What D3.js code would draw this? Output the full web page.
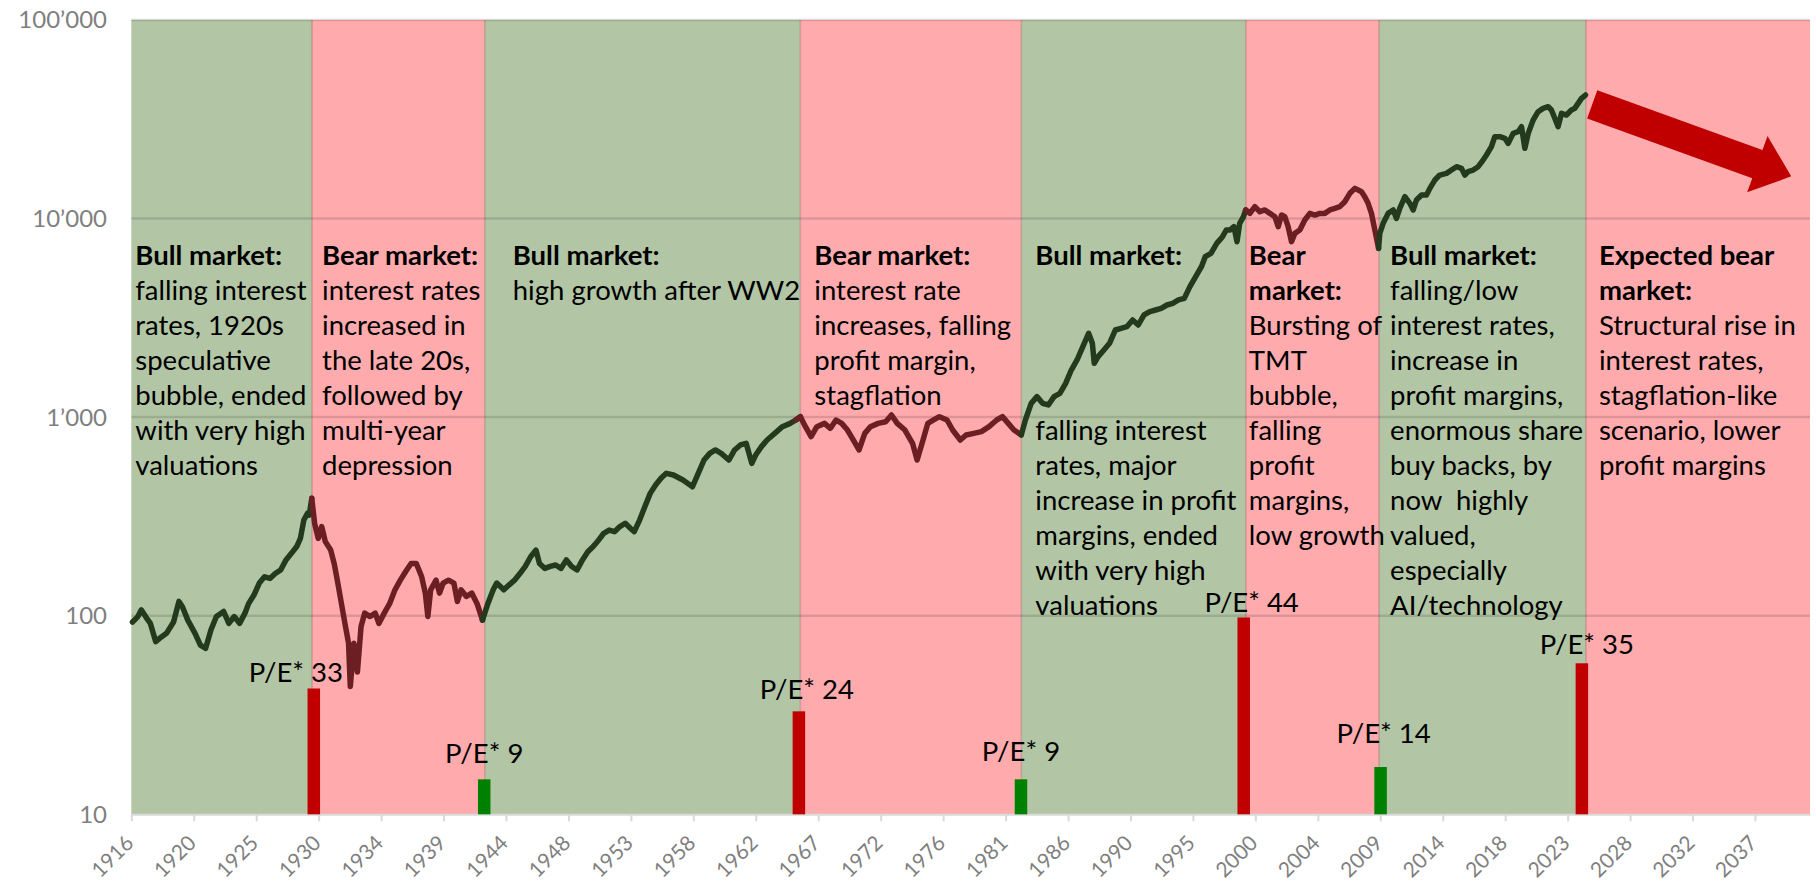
<!DOCTYPE html>
<html lang="en">
<head>
<meta charset="utf-8">
<script src="https://cdn.jsdelivr.net/npm/d3@7"></script>
<style>
  body { margin: 0; background: #fff; overflow: hidden; }
  svg { display: block; background: #fff; font-family: 'Lato', sans-serif; }
  .band.bull { fill: #b2c6a5; }
  .band.bear { fill: #ffabad; }
  .grid line { stroke: rgba(0,0,0,0.13); stroke-width: 2.5; }
  .edge { stroke: rgba(140,70,70,0.3); stroke-width: 1.5; }
  .price { fill: none; stroke-width: 5.5; stroke-linejoin: round; stroke-linecap: round; }
  .price.bull { stroke: #243a1d; }
  .price.bear { stroke: #6b1f23; }
  .ylab { fill: #7f7f7f; font-size: 24px; }
  .x-axis path, .x-axis line { stroke: #d9d9d9; stroke-width: 2; }
  .x-axis text { fill: #7f7f7f; font-size: 21px; font-family: 'Lato', sans-serif; }
  .note { font-size: 27.5px; fill: #000; white-space: pre; }
  .note .head { font-weight: bold; }
  .pe-bar.top { fill: #c00000; }
  .pe-bar.low { fill: #008000; }
  .pe-label { font-size: 27.5px; fill: #000; }
  .arrow { fill: #c00000; }
</style>
</head>
<body>
<svg width="1816" height="885"></svg>
<script>
// index level (year, value)
const index = [
  [1916.09, 93], [1916.49, 99], [1916.75, 107], [1917.15, 97], [1917.42, 91.5], [1917.82, 74], [1918.22, 78],
  [1918.62, 81.5], [1919.15, 93], [1919.55, 118], [1919.81, 111], [1920.21, 95], [1920.75, 81.5], [1921.15, 71],
  [1921.54, 68.5], [1921.94, 85], [1922.34, 99], [1922.88, 105], [1923.27, 91.5], [1923.67, 99], [1924.07, 91.5],
  [1924.47, 103], [1924.74, 115], [1925.14, 127], [1925.54, 146], [1925.93, 157], [1926.33, 154], [1926.73, 163],
  [1927.13, 170], [1927.53, 191], [1927.93, 206], [1928.33, 223], [1928.60, 245], [1928.86, 303], [1929.13, 328],
  [1929.26, 321], [1929.45, 390],
  [1929.66, 292], [1929.93, 245], [1930.19, 281], [1930.46, 236], [1930.86, 214], [1931.12, 183], [1931.39, 146],
  [1931.66, 115], [1931.92, 91.5], [1932.19, 72.6], [1932.32, 44], [1932.59, 72.6], [1932.85, 52], [1933.12, 88],
  [1933.39, 103], [1933.79, 99], [1934.18, 103], [1934.45, 91.5], [1934.85, 103], [1935.25, 115], [1935.65, 135],
  [1936.05, 151], [1936.45, 167], [1936.85, 183], [1937.24, 183], [1937.64, 157], [1937.91, 130], [1938.10, 99],
  [1938.31, 135], [1938.71, 151], [1938.97, 130], [1939.24, 146], [1939.64, 151], [1940.04, 146], [1940.30, 118],
  [1940.57, 135], [1940.97, 125], [1941.37, 130], [1941.77, 115], [1942.17, 95],
  [1942.57, 115], [1942.97, 135], [1943.23, 146], [1943.76, 135], [1944.16, 143], [1944.56, 151], [1944.96, 163],
  [1945.36, 177], [1945.76, 198], [1946.16, 214], [1946.42, 183], [1946.82, 173], [1947.22, 177], [1947.62, 180],
  [1948.02, 173], [1948.42, 191], [1948.82, 177], [1949.22, 170], [1949.62, 191], [1950.02, 210], [1950.42, 223],
  [1950.82, 240], [1951.21, 260], [1951.61, 270], [1952.01, 265], [1952.41, 281], [1952.81, 292], [1953.21, 275],
  [1953.48, 265], [1953.88, 303], [1954.27, 354], [1954.67, 413], [1955.07, 455], [1955.47, 492], [1955.87, 521],
  [1956.40, 511], [1957.11, 482], [1957.82, 446], [1958.25, 521], [1958.68, 608], [1959.11, 657], [1959.53, 683],
  [1959.96, 657], [1960.53, 608], [1960.96, 683], [1961.39, 724], [1961.82, 738], [1962.24, 585], [1962.53, 644],
  [1962.96, 710], [1963.38, 767], [1963.95, 828], [1964.52, 895], [1965.10, 930], [1965.52, 967], [1965.86, 1005],
  [1966.24, 895], [1966.66, 797], [1967.09, 895], [1967.66, 930], [1968.09, 878], [1968.52, 967], [1968.94, 930],
  [1969.37, 861], [1969.80, 767], [1970.23, 683], [1970.66, 828], [1971.08, 895], [1971.65, 930], [1972.22, 948],
  [1972.65, 1025], [1973.08, 930], [1973.65, 861], [1974.22, 738], [1974.56, 608], [1974.93, 738], [1975.36, 930],
  [1975.79, 967], [1976.22, 1005], [1976.79, 967], [1977.21, 861], [1977.78, 767], [1978.21, 813], [1978.78, 828],
  [1979.35, 845], [1979.92, 895], [1980.49, 967], [1980.92, 1005], [1981.35, 930], [1981.78, 861], [1982.32, 813],
  [1982.63, 967], [1983.06, 1173], [1983.49, 1268], [1983.91, 1173], [1984.34, 1151], [1984.77, 1268], [1985.20, 1317],
  [1985.63, 1479], [1986.05, 1726], [1986.48, 1939], [1986.91, 2262], [1987.34, 2641], [1987.62, 2352], [1987.76, 1866],
  [1988.05, 2015], [1988.48, 2177], [1988.90, 2352], [1989.33, 2745], [1989.76, 2799], [1990.19, 2853], [1990.62, 3083],
  [1991.04, 2909], [1991.47, 3267], [1991.90, 3396], [1992.33, 3461], [1992.75, 3529], [1993.18, 3668], [1993.61, 3740],
  [1994.04, 3888], [1994.47, 3963], [1994.89, 4537], [1995.32, 5095], [1995.75, 5720], [1996.03, 6424], [1996.46, 6676],
  [1996.89, 7497], [1997.32, 8100], [1997.60, 8751], [1997.89, 8751], [1998.17, 9097], [1998.40, 7643], [1998.60, 9454],
  [1998.88, 10210], [1999.05, 11040],
  [1999.36, 10610], [1999.73, 11470], [2000.10, 10820], [2000.47, 11040], [2000.85, 10610], [2001.22, 10210],
  [2001.47, 9094], [2001.72, 10410], [2001.96, 10210], [2002.21, 9094], [2002.46, 7643], [2002.71, 8418],
  [2003.08, 8750], [2003.45, 9826], [2003.83, 10610], [2004.20, 10410], [2004.57, 10610], [2004.94, 10610],
  [2005.32, 11040], [2005.69, 11250], [2006.06, 11470], [2006.43, 12150], [2006.81, 13390], [2007.18, 14180],
  [2007.43, 13910], [2007.68, 13650], [2007.92, 12880], [2008.17, 11920], [2008.42, 10610], [2008.67, 8750],
  [2008.95, 7073],
  [2009.04, 8418], [2009.29, 9454], [2009.66, 10610], [2010.04, 11040], [2010.28, 10020], [2010.53, 11250],
  [2010.91, 12880], [2011.28, 11920], [2011.53, 11040], [2011.77, 12390], [2012.15, 13130], [2012.52, 13130],
  [2012.77, 14180], [2013.14, 15620], [2013.51, 16550], [2014.01, 16880], [2014.38, 17540], [2014.76, 18230],
  [2015.13, 17880], [2015.38, 16550], [2015.62, 17210], [2016.00, 17540], [2016.37, 18230], [2016.74, 19700],
  [2016.99, 20880], [2017.36, 23000], [2017.61, 25820], [2017.99, 25820], [2018.36, 25330], [2018.61, 23890],
  [2018.98, 26840], [2019.35, 27360], [2019.60, 29000], [2019.85, 22560], [2020.10, 26840], [2020.47, 31320],
  [2020.84, 34500], [2021.21, 35860], [2021.59, 36560], [2021.83, 35170], [2022.08, 31940], [2022.33, 29000],
  [2022.58, 33840], [2022.95, 33190], [2023.32, 35170], [2023.57, 35860], [2023.82, 38000], [2024.07, 40270],
  [2024.37, 41860]
];

// market phases
const phaseStart = [1916, 1929.47, 1942.34, 1965.86, 1982.33, 1999.06, 2008.99, 2024.4];
const phaseEnd = 2041.1;
const phaseKind = ["bull", "bear", "bull", "bear", "bull", "bear", "bull", "bear"];
const phaseTitle = [
  ["Bull market:"], ["Bear market:"], ["Bull market:"], ["Bear market:"],
  ["Bull market:"], ["Bear", "market:"], ["Bull market:"], ["Expected bear", "market:"]
];
const phaseText = [
  ["falling interest", "rates, 1920s", "speculative", "bubble, ended", "with very high", "valuations"],
  ["interest rates", "increased in", "the late 20s,", "followed by", "multi-year", "depression"],
  ["high growth after WW2"],
  ["interest rate", "increases, falling", "profit margin,", "stagflation"],
  ["", "", "", "", "falling interest", "rates, major", "increase in profit", "margins, ended", "with very high", "valuations"],
  ["Bursting of", "TMT", "bubble,", "falling", "profit", "margins,", "low growth"],
  ["falling/low", "interest rates,", "increase in", "profit margins,", "enormous share", "buy backs, by",
   "now  highly", "valued,", "especially", "AI/technology"],
  ["Structural rise in", "interest rates,", "stagflation-like", "scenario, lower", "profit margins"]
];

// P/E at turning points
const peYear = [1929.6, 1942.3, 1965.75, 1982.3, 1998.9, 2009.1, 2024.1];
const peBar = [43, 15, 33, 15, 98, 17.3, 57.6];
const peValue = [33, 9, 24, 9, 44, 14, 35];
const peKind = ["top", "low", "top", "low", "top", "low", "top"];

// expected path
const outlookFrom = [2024.87, 37540];
const outlookTo = [2039.7, 16300];

const xTickLabels = ["1916", "1920", "1925", "1930", "1934", "1939", "1944", "1948", "1953", "1958",
  "1962", "1967", "1972", "1976", "1981", "1986", "1990", "1995", "2000", "2004", "2009", "2014",
  "2018", "2023", "2028", "2032", "2037"];
const yTicks = [10, 100, 1000, 10000, 100000];

const svg = d3.select("svg");
const plotLeft = 131.3, plotRight = 1810, plotTop = 19.9, plotBottom = 814.3;

const x = d3.scaleLinear().domain([1916, phaseEnd]).range([plotLeft, plotRight]);
const y = d3.scaleLog().domain([10, 100000]).range([plotBottom, plotTop]);

// background bands
const phases = phaseStart.map((s, i) => ({
  start: s, end: i < phaseStart.length - 1 ? phaseStart[i + 1] : phaseEnd,
  kind: phaseKind[i], title: phaseTitle[i], text: phaseText[i]
}));

svg.append("g").selectAll("rect").data(phases).join("rect")
  .attr("class", d => "band " + d.kind)
  .attr("x", d => x(d.start)).attr("width", d => x(d.end) - x(d.start))
  .attr("y", plotTop).attr("height", plotBottom - plotTop);

svg.append("g").selectAll("line").data(phaseStart.slice(1)).join("line")
  .attr("class", "edge")
  .attr("x1", d => x(d)).attr("x2", d => x(d))
  .attr("y1", plotTop).attr("y2", plotBottom);

// gridlines
svg.append("g").attr("class", "grid").selectAll("line").data(yTicks.slice(1)).join("line")
  .attr("x1", plotLeft).attr("x2", plotRight)
  .attr("y1", d => y(d)).attr("y2", d => y(d));

svg.append("g").selectAll("text").data(yTicks).join("text")
  .attr("class", "ylab")
  .attr("x", 107).attr("y", d => y(d)).attr("dy", "0.35em")
  .attr("text-anchor", "end")
  .text(d => d3.format(",")(d).replace(/,/g, "\u2019"));

// x axis
const tickYears = xTickLabels.map((_, i) => 1916 + i * 121 / 26);
const xAxis = svg.append("g").attr("class", "x-axis")
  .attr("transform", `translate(0,${plotBottom})`)
  .call(d3.axisBottom(x).tickValues(tickYears).tickFormat((d, i) => xTickLabels[i]).tickSize(7).tickSizeOuter(0));
xAxis.selectAll("text")
  .attr("x", 0).attr("y", 0).attr("dy", 0)
  .attr("text-anchor", "end")
  .attr("transform", "translate(3,30) rotate(-45)");

// P/E bars
const pe = peYear.map((yr, i) => ({ yr, bar: peBar[i], val: peValue[i], kind: peKind[i] }));
const peGap = [6, 16, 12, 18, 5, 24, 9];
const peDx = [-18, 0, 8, 0, 8, 3, 5];

svg.append("g").selectAll("rect").data(pe).join("rect")
  .attr("class", d => "pe-bar " + d.kind)
  .attr("x", d => x(d.yr) - 6.25).attr("width", 12.5)
  .attr("y", d => y(d.bar)).attr("height", d => plotBottom - y(d.bar));

// index line, one path per phase
const line = d3.line().x(d => x(d[0])).y(d => y(d[1]));
phases.forEach(p => {
  const inside = index.filter(d => d[0] >= p.start && d[0] <= p.end);
  if (!inside.length) return;
  const before = index.filter(d => d[0] < p.start);
  const pts = before.length ? [before[before.length - 1], ...inside] : inside;
  svg.append("path").attr("class", "price " + p.kind).attr("d", line(pts));
});

svg.append("g").selectAll("text").data(pe).join("text")
  .attr("class", "pe-label")
  .attr("x", (d, i) => x(d.yr) + peDx[i])
  .attr("y", (d, i) => y(d.bar) - peGap[i])
  .attr("text-anchor", "middle")
  .text(d => "P/E* " + d.val);

// phase notes
const noteDx = [4, 10, 28, 14, 14, 3, 11, 13];
const lineGap = 35, firstBase = 265;
phases.forEach((p, i) => {
  const t = svg.append("text").attr("class", "note")
    .attr("x", x(p.start) + noteDx[i]).attr("y", firstBase);
  const rows = p.title.map(s => ({ s, head: true })).concat(p.text.map(s => ({ s, head: false })));
  rows.forEach((r, k) => {
    t.append("tspan")
      .attr("class", r.head ? "head" : null)
      .attr("x", x(p.start) + noteDx[i])
      .attr("y", firstBase + k * lineGap)
      .text(r.s);
  });
});

// outlook arrow
const a = [x(outlookFrom[0]), y(outlookFrom[1])];
const b = [x(outlookTo[0]), y(outlookTo[1])];
const len = Math.hypot(b[0] - a[0], b[1] - a[1]);
const u = [(b[0] - a[0]) / len, (b[1] - a[1]) / len];
const n = [-u[1], u[0]];
const shaft = 15, head = 30, headLen = 36;
const hb = [b[0] - u[0] * headLen, b[1] - u[1] * headLen];
const pt = (p, k) => [p[0] + n[0] * k, p[1] + n[1] * k];
const arrowPts = [pt(a, -shaft), pt(hb, -shaft), pt(hb, -head), b, pt(hb, head), pt(hb, shaft), pt(a, shaft)];
svg.append("polygon").attr("class", "arrow")
  .attr("points", arrowPts.map(p => p.join(",")).join(" "));
</script>
</body>
</html>
